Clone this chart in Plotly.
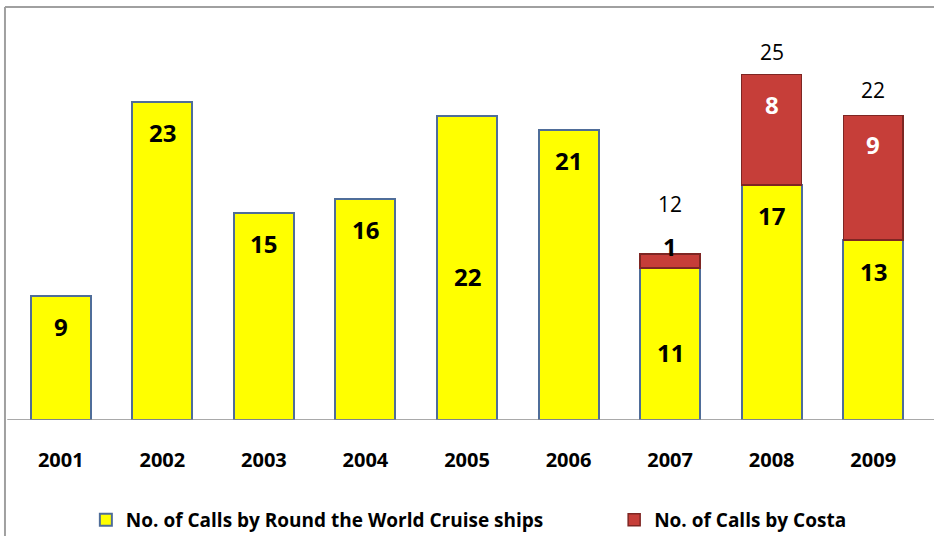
import plotly.graph_objects as go

# Annual port calls, split by operator group
years = ["2001", "2002", "2003", "2004", "2005", "2006", "2007", "2008", "2009"]
world_cruise_calls = [9, 23, 15, 16, 22, 21, 11, 17, 13]
costa_calls = [None, None, None, None, None, None, 1, 8, 9]
totals_shown = {"2007": 12, "2008": 25, "2009": 22}

series_names = ["No. of Calls by Round the World Cruise ships", "No. of Calls by Costa"]

# label styling (pixel offsets relative to the bar segment tops)
yellow_label_mode = ["top", "top", "top", "top", "mid", "top", "mid", "top", "top"]
costa_label_shift = {"2007": 8, "2008": -30, "2009": -29}
total_label_shift = {"2007": 50, "2008": 22, "2009": 26}

FONT = "Open Sans"
YELLOW = "#FFFF00"
YELLOW_EDGE = "#4F6D99"
RED = "#C63E39"
RED_EDGE = "#7E2623"

fig = go.Figure()
fig.add_trace(go.Bar(
    x=years, y=world_cruise_calls, name=f"<b>{series_names[0]}</b>",
    marker=dict(color=YELLOW, line=dict(color=YELLOW_EDGE, width=2)),
    hoverinfo="x+y", legend="legend",
))
fig.add_trace(go.Bar(
    x=years, y=costa_calls, name=f"<b>{series_names[1]}</b>",
    marker=dict(color=RED, line=dict(color=RED_EDGE, width=1.5)),
    hoverinfo="x+y", legend="legend2",
))

pos = {yr: i for i, yr in enumerate(years)}

annotations = []
for yr, v, mode in zip(years, world_cruise_calls, yellow_label_mode):
    y, shift = (v, -31) if mode == "top" else (v / 2, -9)
    annotations.append(dict(x=pos[yr], y=y, yshift=shift, text=f"<b>{v}</b>",
                            showarrow=False, yanchor="middle",
                            font=dict(family=FONT, size=24, color="black")))

for yr, base, c in zip(years, world_cruise_calls, costa_calls):
    if c is None:
        continue
    top = base + c
    colour = "black" if costa_label_shift[yr] > 0 else "white"
    annotations.append(dict(x=pos[yr], y=top, yshift=costa_label_shift[yr], text=f"<b>{c}</b>",
                            showarrow=False, yanchor="middle",
                            font=dict(family=FONT, size=24, color=colour)))

for yr, tot in totals_shown.items():
    annotations.append(dict(x=pos[yr], y=tot, yshift=total_label_shift[yr], text=str(tot),
                            showarrow=False, yanchor="middle",
                            font=dict(family=FONT, size=21, color="black")))

shapes = [
    # outer frame (left and top edges)
    dict(type="line", xref="paper", yref="paper", x0=-0.0055, x1=-0.0055, y0=1.0325, y1=-0.30,
         line=dict(color="#A0A0A0", width=2)),
    dict(type="line", xref="paper", yref="paper", x0=-0.0055, x1=1.03, y0=1.0325, y1=1.0325,
         line=dict(color="#A0A0A0", width=2)),
    # category axis baseline
    dict(type="line", xref="paper", yref="y", x0=-0.003, x1=1.03, y0=0, y1=0,
         line=dict(color="#8C8C8C", width=1.5)),
]

legend_style = dict(orientation="h", xanchor="left", yanchor="middle", y=-0.25,
                    itemwidth=30, bgcolor="rgba(0,0,0,0)",
                    font=dict(family=FONT, size=19, color="black"))

fig.update_layout(
    barmode="stack",
    bargap=0.41,
    width=934, height=536,
    margin=dict(l=10, r=10, t=20, b=116, autoexpand=False),
    paper_bgcolor="white", plot_bgcolor="white",
    showlegend=True,
    legend=dict(x=0.083, **legend_style),
    legend2=dict(x=0.661, **legend_style),
    xaxis=dict(type="category", range=[-0.5, len(years) - 0.5],
               showline=False, showgrid=False, zeroline=False,
               ticks="outside", ticklen=22, tickcolor="rgba(0,0,0,0)",
               tickmode="array", tickvals=years, ticktext=[f"<b>{y}</b>" for y in years],
               tickfont=dict(family=FONT, size=20, color="black")),
    yaxis=dict(range=[0, 400 / 13.83], visible=False, showgrid=False, zeroline=False),
    annotations=annotations,
    shapes=shapes,
)

fig.write_html("out.html")
